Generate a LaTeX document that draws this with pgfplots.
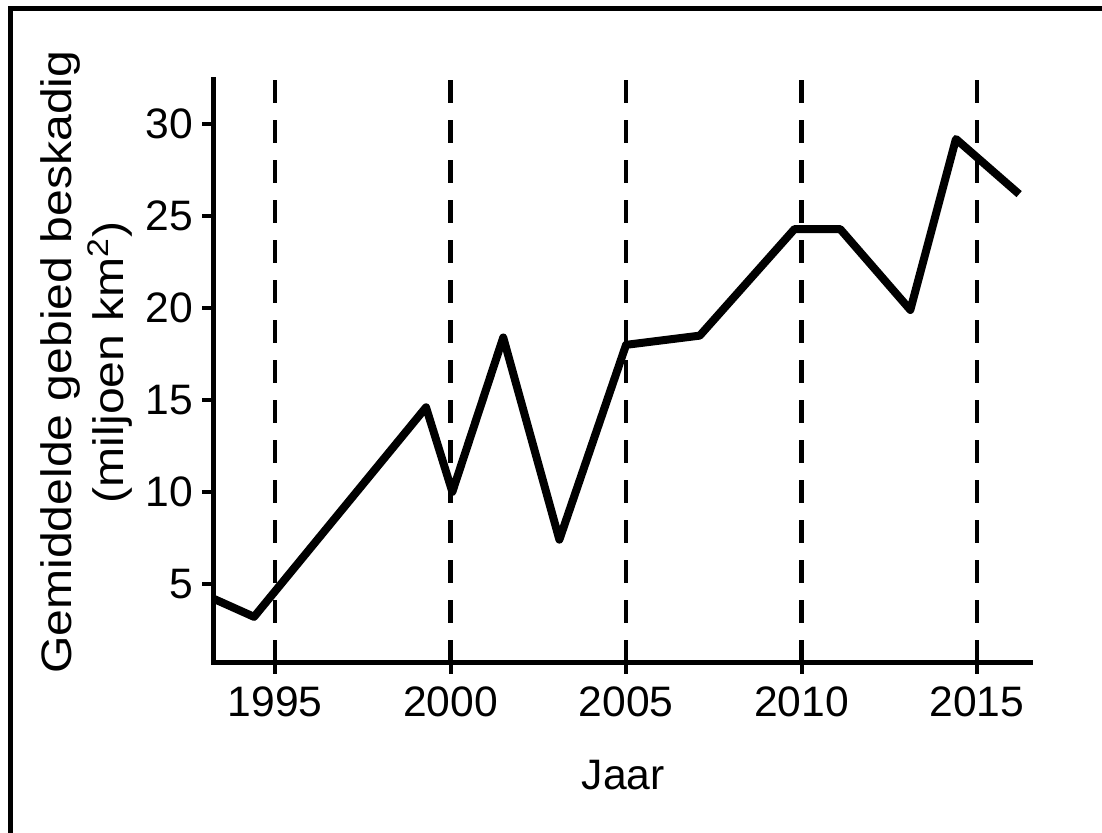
\documentclass[border=0pt]{standalone}
\usepackage{graphicx}
\usepackage{pgfplots}
\pgfplotsset{compat=1.18}
\usepackage{fontspec}
\setmainfont{Liberation Sans}

\begin{document}
\begin{tikzpicture}
\useasboundingbox (0,0) rectangle (551pt,416.5pt);
\fill[white] (0,0) rectangle (551pt,416.5pt);
% frame (top and left only)
\draw[line width=2.5pt] (5.25pt,0) -- (5.25pt,413.5pt);
\draw[line width=2.5pt] (4pt,412.25pt) -- (551pt,412.25pt);

\begin{axis}[
    at={(106.5pt,85pt)},
    anchor=south west,
    scale only axis,
    width=408.5pt,
    height=291.5pt,
    xmin=1993.23, xmax=2016.51,
    ymin=0.69, ymax=32.41,
    axis lines=left,
    axis line style={-, line width=2.5pt, line cap=rect},
    xtick={1995,2000,2005,2010,2015},
    xticklabels={1995,2000,2005,2010,2015},
    ytick={5,10,15,20,25,30},
    tick align=outside,
    tick style={black, line width=2pt},
    major tick length=5.5pt,
    xmajorgrids=true,
    major grid style={black, line width=2.2pt, dash pattern=on 11.5pt off 8.5pt},
    font=\fontsize{21.3}{26}\selectfont,
    /pgf/number format/assume math mode=true,
    xticklabel style={yshift=-3pt},
    yticklabel style={xshift=-1pt},
    xlabel={Jaar},
    xlabel style={at={(axis description cs:0.502,-0.192)}, anchor=center},
    ylabel={\scalebox{1.13}[1]{Gemiddelde gebied beskadig}\\\scalebox{1.13}[1]{(miljoen km\textsuperscript{2})}},
    ylabel style={at={(axis description cs:-0.155,0.516)}, anchor=center, align=center},
    clip=false,
]
\addplot[black, line width=4pt, line join=round] coordinates {
    (1993.23,4.2) (1994.4,3.2) (1999.3,14.6) (2000.05,10.0) (2001.5,18.4)
    (2003.1,7.4) (2005.0,18.0) (2007.1,18.5) (2009.8,24.3) (2011.1,24.3)
    (2013.1,19.9) (2014.4,29.2) (2016.2,26.2)
};
\end{axis}
\end{tikzpicture}
\end{document}
